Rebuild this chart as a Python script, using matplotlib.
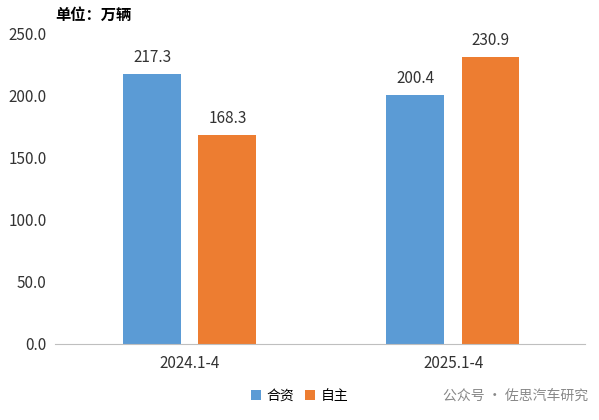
import numpy as np
import matplotlib
matplotlib.use('Agg')
import matplotlib.pyplot as plt

plt.rcParams['font.family'] = ['Noto Sans CJK SC', 'DejaVu Sans']

categories = ['2024.1-4', '2025.1-4']
jv = [217.3, 200.4]
own = [168.3, 230.9]
yticks = [0.0, 50.0, 100.0, 150.0, 200.0, 250.0]

fig = plt.figure(figsize=(5.99, 4.20), dpi=100)
ax = fig.add_axes([0.092, 0.181, 0.885, 0.74])
x = np.arange(len(categories))
w = 0.22
b1 = ax.bar(x - 0.144, jv, w, color='#5B9BD5', label='合资')
b2 = ax.bar(x + 0.142, own, w, color='#ED7D31', label='自主')
for bars in (b1, b2):
    for r in bars:
        ax.text(r.get_x() + r.get_width()/2, r.get_height() + 6, '%.1f' % r.get_height(),
                ha='center', va='bottom', fontsize=11, color='#333333')
ax.set_xlim(-0.513, 1.502)
ax.set_ylim(0, 250)
ax.set_yticks(yticks)
ax.set_yticklabels(['%.1f' % v for v in yticks], fontsize=11, color='#333333')
ax.set_xticks(x)
ax.set_xticklabels(categories, fontsize=11, color='#333333')
for s in ['top', 'right', 'left']:
    ax.spines[s].set_visible(False)
ax.spines['bottom'].set_color('#BFBFBF')
ax.tick_params(axis='both', length=0, pad=6)
ax.tick_params(axis='x', pad=8)

fig.text(0.092, 0.965, '单位：万辆', fontsize=11, fontweight='bold', ha='left', va='center')
fig.legend(handles=[b1, b2], loc='center', bbox_to_anchor=(0.5, 0.057), ncol=2, frameon=False,
           fontsize=10, handlelength=0.7, handleheight=0.7, columnspacing=0.8, handletextpad=0.4)
fig.text(0.74, 0.057, '公众号 · 佐思汽车研究', fontsize=10, color='#888888', ha='left', va='center')

fig.savefig('out.png', dpi=100)
